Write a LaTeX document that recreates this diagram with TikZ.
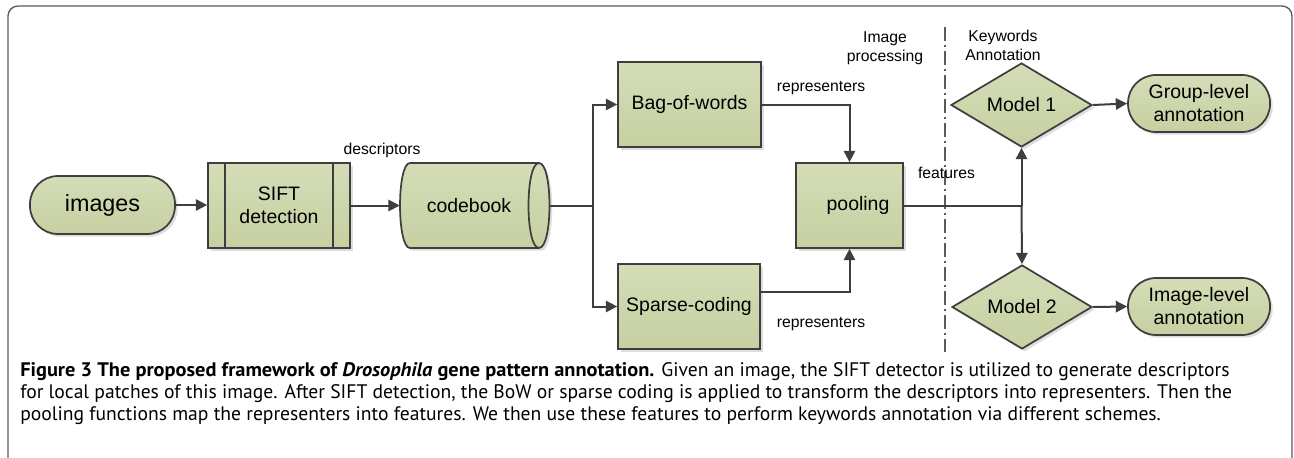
\documentclass[tikz,border=0pt]{standalone}
\usepackage{fontspec}
\setmainfont{Liberation Sans}
\newfontfamily\capfont{PT Sans}
\usetikzlibrary{shapes.geometric,arrows.meta,shadows,calc}
\definecolor{boxtop}{HTML}{D4DDB7}
\definecolor{boxbot}{HTML}{C6D0A1}
\definecolor{edgec}{HTML}{3E3E3E}
\definecolor{framec}{HTML}{5A5A5A}
\begin{document}
\begin{tikzpicture}[x=0.75pt,y=-0.75pt,
  shapebox/.style={draw=edgec, line width=1.3pt, top color=boxtop, bottom color=boxbot,
    drop shadow={shadow xshift=2pt, shadow yshift=-2pt, fill=black!13, opacity=1},
    inner sep=0pt, align=center, font=\fontsize{14.6pt}{17.2pt}\selectfont},
  rectbox/.style={shapebox, rectangle},
  stadium/.style={shapebox, rectangle, rounded corners=28*0.75pt},
  decision/.style={shapebox, diamond},
  conn/.style={draw=edgec, line width=1.5pt},
  arr/.style={conn, -{Triangle[length=8.5pt,width=8.5pt]}},
  lbl/.style={inner sep=0pt, align=center, font=\fontsize{11.8pt}{14.25pt}\selectfont},
  captext/.style={inner sep=0pt, anchor=base west, font=\capfont\fontsize{14.7pt}{16.5pt}\selectfont}
]
\fill[white] (0,0) rectangle (1294,457);
\useasboundingbox (0,0) rectangle (1294,457);
\draw[line width=1pt, draw=framec, rounded corners=10*0.75pt] (8,6) rectangle (1292,472);

% nodes
\node[stadium, minimum width=145*0.75pt, minimum height=58*0.75pt,
  font=\fontsize{17.5pt}{20pt}\selectfont] (images) at (102.5,205) {images};
\node[rectbox, minimum width=142*0.75pt, minimum height=85*0.75pt] (sift) at (279,205.5) {SIFT\\detection};
\draw[draw=edgec, line width=1.3pt] ([xshift=18*0.75pt]sift.north west) -- ([xshift=18*0.75pt]sift.south west);
\draw[draw=edgec, line width=1.3pt] ([xshift=-18*0.75pt]sift.north east) -- ([xshift=-18*0.75pt]sift.south east);

% codebook (horizontal cylinder)
\path[draw=edgec, line width=1.3pt, top color=boxtop, bottom color=boxbot,
  drop shadow={shadow xshift=2pt, shadow yshift=-2pt, fill=black!13, opacity=1}]
  (539,163) -- (410,163) .. controls (396.7,163) and (396.7,248) .. (410,248)
  -- (539,248) .. controls (553,248) and (553,163) .. (539,163) -- cycle;
\draw[draw=edgec, line width=1.3pt] (539,163) .. controls (525,163) and (525,248) .. (539,248);
\node[inner sep=0pt, minimum width=150*0.75pt, minimum height=85*0.75pt,
  font=\fontsize{14.6pt}{17.2pt}\selectfont] (codebook) at (475,205.5) {codebook\hspace*{9pt}};

\node[rectbox, minimum width=143*0.75pt, minimum height=85*0.75pt] (bow) at (689.5,104.5) {Bag-of-words};
\node[rectbox, minimum width=142*0.75pt, minimum height=85*0.75pt] (sparse) at (689,306.5) {Sparse-coding};
\node[rectbox, minimum width=107*0.75pt, minimum height=85*0.75pt] (pool) at (849.5,205.5) {\hspace*{12.75pt}pooling};

\node[decision, minimum width=141*0.75pt, minimum height=84*0.75pt] (m1) at (1021.5,105) {Model 1};
\node[decision, minimum width=140*0.75pt, minimum height=84*0.75pt] (m2) at (1022,307) {Model 2};

\node[stadium, minimum width=142*0.75pt, minimum height=57*0.75pt] (grp) at (1199,103.5) {Group-level\\annotation};
\node[stadium, minimum width=142*0.75pt, minimum height=57*0.75pt] (iml) at (1199,306.5) {Image-level\\annotation};

% divider
\draw[draw=framec, line width=1.1pt, dash pattern=on 10.5pt off 3pt on 1.5pt off 3pt] (945,27) -- (945,352);

% connectors
\coordinate (cbr) at (593,205.5);
\coordinate (fbr) at (1021.5,205.5);
\draw[arr] (images.east) -- (sift.west |- images.east);
\draw[arr] (sift.east) -- (codebook.west);
\draw[conn] (codebook.east) -- (cbr);
\draw[arr] (cbr) |- (bow.west);
\draw[arr] (cbr) |- (sparse.west);
\draw[arr] (bow.east) -| (pool.north);
\draw[arr] ($(sparse.north east)!0.33!(sparse.south east)$) -| (pool.south);
\draw[conn] (pool.east) -- (fbr);
\draw[arr] (fbr) -- (m1.south);
\draw[arr] (fbr) -- (m2.north);
\draw[arr] (m1.east) -- (grp.west);
\draw[arr] (m2.east) -- (iml.west);

% labels
\node[lbl] (ldesc) at (382,150) {descriptors};
\node[lbl] (lrep1) at (821,88) {representers};
\node[lbl] (lrep2) at (821,324) {representers};
\node[lbl] (lfeat) at (946.5,173) {features};
\node[lbl] (limg) at (885,48) {Image\\processing};
\node[lbl] (lkw) at (1003,45.5) {Keywords\\Annotation};

% caption
\node[captext] (cap1) at (20,376) {{\bfseries\addfontfeature{FakeStretch=1.04}Figure 3 The proposed framework of {\itshape\addfontfeature{FakeStretch=1.04}Drosophila} gene pattern annotation.} Given an image, the SIFT detector is utilized to generate descriptors};
\node[captext] (cap2) at (20,398) {for local patches of this image. After SIFT detection, the BoW or sparse coding is applied to transform the descriptors into representers. Then the};
\node[captext] (cap3) at (20,420) {pooling functions map the representers into features. We then use these features to perform keywords annotation via different schemes.};
\end{tikzpicture}
\end{document}
